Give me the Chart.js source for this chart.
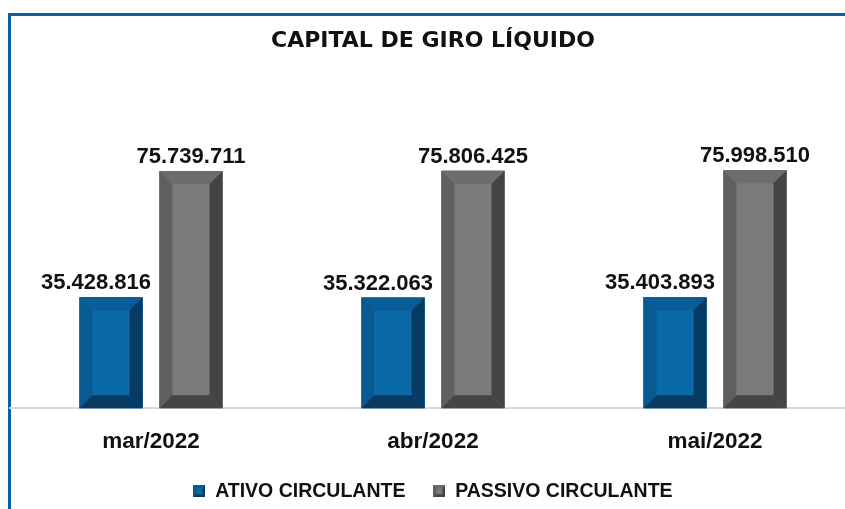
<!DOCTYPE html>
<html>
<head>
<meta charset="utf-8">
<script src="https://cdn.jsdelivr.net/npm/chart.js@4.4.1/dist/chart.umd.min.js"></script>
<style>
  html, body { margin: 0; padding: 0; background: #fff; }
  body { width: 845px; height: 509px; overflow: hidden; position: relative; }
  #frame { position: absolute; left: 8px; top: 13px; width: 900px; height: 600px;
           border-left: 3px solid #0b62a0; border-top: 3px solid #0b62a0; }
  #wrap { position: absolute; left: 0; top: 0; width: 860px; height: 511px; }
</style>
</head>
<body>
<div id="frame"></div>
<div id="wrap"><canvas id="chart"></canvas></div>
<script>
const months = ['mar/2022', 'abr/2022', 'mai/2022'];
const ativoCirculante = [35428816, 35322063, 35403893];
const passivoCirculante = [75739711, 75806425, 75998510];

// face colours for the bevelled bars: centre, top, left, right, bottom
const bevelBlue = ['#0c69a8', '#0a5c98', '#0a5a92', '#063c64', '#083b63'];
const bevelGray = ['#7a7a7c', '#6d6d6f', '#5f5f61', '#444446', '#454547'];

const fmt = (v) => v.toString().replace(/\B(?=(\d{3})+(?!\d))/g, '.');

function drawBevel(ctx, x0, x1, top, base, c, b) {
  ctx.fillStyle = c[0];
  ctx.fillRect(x0, top, x1 - x0, base - top);
  const face = (pts, col) => {
    ctx.beginPath();
    ctx.moveTo(pts[0][0], pts[0][1]);
    for (let i = 1; i < pts.length; i++) ctx.lineTo(pts[i][0], pts[i][1]);
    ctx.closePath();
    ctx.fillStyle = col;
    ctx.fill();
  };
  face([[x0, top], [x1, top], [x1 - b, top + b], [x0 + b, top + b]], c[1]);
  face([[x0, top], [x0 + b, top + b], [x0 + b, base - b], [x0, base]], c[2]);
  face([[x1, top], [x1, base], [x1 - b, base - b], [x1 - b, top + b]], c[3]);
  face([[x0, base], [x0 + b, base - b], [x1 - b, base - b], [x1, base]], c[4]);
}

function legendIcon(c) {
  const cv = document.createElement('canvas');
  cv.width = 12; cv.height = 12;
  drawBevel(cv.getContext('2d'), 0, 12, 0, 12, c, 3);
  return cv;
}

const bevelPlugin = {
  id: 'bevel',
  afterDatasetsDraw(chart) {
    const ctx = chart.ctx;
    ctx.save();
    const labels = [];
    chart.data.datasets.forEach((ds, i) => {
      const meta = chart.getDatasetMeta(i);
      const cols = i === 0 ? bevelBlue : bevelGray;
      meta.data.forEach((bar, j) => {
        const p = bar.getProps(['x', 'y', 'base', 'width'], true);
        drawBevel(ctx, p.x - p.width / 2, p.x + p.width / 2, p.y, p.base, cols, 13);
        // the smaller value's label sits a bit left, as in the original
        labels.push([fmt(ds.data[j]), i === 0 ? p.x - 15 : p.x, p.y - 8]);
      });
    });
    ctx.fillStyle = '#111';
    ctx.font = 'bold 22px "Liberation Sans"';
    ctx.textAlign = 'center';
    ctx.textBaseline = 'alphabetic';
    labels.forEach(([t, x, y]) => ctx.fillText(t, x, y));
    ctx.restore();
  }
};

new Chart(document.getElementById('chart'), {
  type: 'bar',
  data: {
    labels: months,
    datasets: [
      { label: 'ATIVO CIRCULANTE', data: ativoCirculante, backgroundColor: bevelBlue[0],
        pointStyle: legendIcon(bevelBlue) },
      { label: 'PASSIVO CIRCULANTE', data: passivoCirculante, backgroundColor: bevelGray[0],
        pointStyle: legendIcon(bevelGray) }
    ]
  },
  options: {
    responsive: true,
    maintainAspectRatio: false,
    animation: false,
    categoryPercentage: 0.567,
    barPercentage: 0.79,
    layout: { padding: { left: 10, right: 4, top: 8, bottom: 0 } },
    plugins: {
      title: {
        display: true,
        text: 'CAPITAL DE GIRO LÍQUIDO',
        color: '#111',
        font: { family: 'DejaVu Sans', size: 22, weight: 'bold' },
        padding: { top: 19.8, bottom: 40.8 }
      },
      legend: {
        position: 'bottom',
        labels: {
          usePointStyle: true,
          pointStyleWidth: 12,
          color: '#111',
          font: { family: 'Liberation Sans', size: 19.5, weight: 'bold' },
          padding: 28
        }
      },
      tooltip: { enabled: false }
    },
    scales: {
      x: {
        grid: { display: false, drawTicks: false },
        border: { color: '#d9d9d9', width: 2 },
        ticks: { color: '#111', font: { family: 'Liberation Sans', size: 22.5, weight: 'bold' }, padding: 20 },
        afterFit(scale) { scale.height = 45.25; }
      },
      y: {
        display: false,
        min: 0,
        max: 100000000
      }
    }
  },
  plugins: [bevelPlugin]
});
</script>
</body>
</html>
